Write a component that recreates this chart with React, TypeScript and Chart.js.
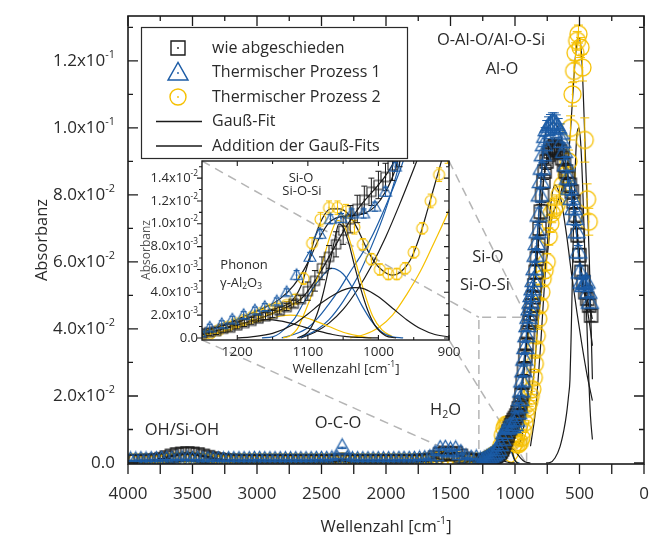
import React, { useEffect, useRef } from "react";
import { Chart, registerables } from "chart.js";
Chart.register(...registerables);

const W = 653;
const H = 543;
const FONT = '"Open Sans", "Noto Sans", "DejaVu Sans", sans-serif';
const TXT = "#2a2a2a";
const BLACK = "#1b1b1b";
const BLUE = "#1c5ca6";
const YELLOW = "#f6c000";
const DASH = "#b5b5b5";

// ---------------- DATA ----------------
// baseline region (shared wavenumber grid)
const baseWavenumbers = [
  3980, 3940, 3900, 3860, 3820, 3780, 3740, 3700, 3660, 3620,
  3580, 3540, 3500, 3460, 3420, 3380, 3340, 3300, 3260, 3220,
  3180, 3140, 3100, 3060, 3020, 2980, 2940, 2900, 2860, 2820,
  2780, 2740, 2700, 2660, 2620, 2580, 2540, 2500, 2460, 2420,
  2380, 2340, 2300, 2260, 2220, 2180, 2140, 2100, 2060, 2020,
  1980, 1940, 1900, 1860, 1820, 1780, 1740, 1700, 1660, 1620,
  1580, 1540, 1500, 1460, 1420, 1380, 1340, 1300,
];
const blueBaseAbs = [
  0.0006, 0.0006, 0.0007, 0.0006, 0.0007, 0.0007, 0.0008, 0.0008, 0.0008, 0.0009,
  0.0009, 0.0009, 0.0008, 0.0008, 0.0007, 0.0007, 0.0007, 0.0007, 0.0006, 0.0007,
  0.0007, 0.0007, 0.0007, 0.0007, 0.0008, 0.0008, 0.0007, 0.0007, 0.0007, 0.0007,
  0.0007, 0.0007, 0.0007, 0.0007, 0.0007, 0.0007, 0.0008, 0.0008, 0.0008, 0.0009,
  0.0011, 0.0045, 0.001, 0.0007, 0.0007, 0.0007, 0.0007, 0.0007, 0.0007, 0.0007,
  0.0007, 0.0007, 0.0008, 0.0008, 0.0008, 0.0008, 0.0009, 0.001, 0.0013, 0.0025,
  0.004, 0.0041, 0.0036, 0.0039, 0.0028, 0.0015, 0.0011, 0.0012,
];
const blackBaseAbs = [
  0.0005, 0.0005, 0.0005, 0.0006, 0.0006, 0.0008, 0.0011, 0.0016, 0.0021, 0.0025,
  0.0027, 0.0028, 0.0027, 0.0025, 0.0021, 0.0017, 0.0013, 0.001, 0.0008, 0.0006,
  0.0006, 0.0005, 0.0005, 0.0005, 0.0005, 0.0005, 0.0005, 0.0005, 0.0005, 0.0005,
  0.0005, 0.0005, 0.0005, 0.0005, 0.0005, 0.0005, 0.0005, 0.0005, 0.0005, 0.0005,
  0.0006, 0.0009, 0.0006, 0.0005, 0.0005, 0.0005, 0.0005, 0.0005, 0.0005, 0.0005,
  0.0005, 0.0005, 0.0005, 0.0005, 0.0005, 0.0005, 0.0006, 0.0007, 0.0009, 0.0016,
  0.0026, 0.003, 0.0027, 0.0029, 0.0021, 0.0012, 0.0008, 0.0008,
];
const yellowBaseAbs = [
  0.0002, 0.0002, 0.0002, 0.0002, 0.0002, 0.0002, 0.0003, 0.0004, 0.0005, 0.0006,
  0.0006, 0.0006, 0.0006, 0.0005, 0.0004, 0.0003, 0.0003, 0.0002, 0.0002, 0.0002,
  0.0002, 0.0002, 0.0002, 0.0002, 0.0002, 0.0002, 0.0002, 0.0002, 0.0002, 0.0002,
  0.0002, 0.0002, 0.0002, 0.0002, 0.0002, 0.0002, 0.0002, 0.0002, 0.0002, 0.0002,
  0.0002, 0.0004, 0.0002, 0.0002, 0.0002, 0.0002, 0.0002, 0.0002, 0.0002, 0.0002,
  0.0002, 0.0002, 0.0002, 0.0002, 0.0002, 0.0002, 0.0002, 0.0003, 0.0004, 0.0006,
  0.0009, 0.001, 0.0008, 0.0009, 0.0006, 0.0004, 0.0003, 0.0004,
];
const blackBaseError = 0.0002;
const blueBaseError = 0.0002;
const yellowBaseError = 0.0002;

// peak region: wie abgeschieden
const blackPeakWavenumbers = [
  1265, 1250, 1240, 1230, 1220, 1210, 1200, 1190, 1180, 1170, 1160, 1150, 1140, 1130, 1120, 1110,
  1100, 1090, 1080, 1070, 1060, 1050, 1040, 1030, 1020, 1010, 1000, 990, 980, 970,
  960, 950, 940, 930, 920, 910, 900, 890, 880, 870, 860, 850, 840, 830, 820, 810, 800, 790, 780, 770,
  755, 740, 725, 710, 695, 680, 665, 650, 635, 620, 605, 590, 575, 560, 545, 530, 515, 500, 485, 470, 455, 440, 425, 410,
];
const blackPeakAbs = [
  0.0005, 0.0004, 0.0005, 0.0006, 0.0008, 0.0009, 0.0011, 0.0013, 0.0015, 0.0017, 0.0019, 0.0021, 0.0024, 0.0027, 0.003, 0.0034,
  0.0041, 0.005, 0.0061, 0.0071, 0.0082, 0.0094, 0.0104, 0.0113, 0.0121, 0.0128, 0.0134, 0.0141, 0.0151, 0.0163,
  0.0178, 0.0205, 0.024, 0.028, 0.032, 0.0355, 0.039, 0.042, 0.0445, 0.047, 0.0495, 0.053, 0.057, 0.061, 0.065, 0.07, 0.075, 0.08, 0.084, 0.087,
  0.09, 0.092, 0.093, 0.094, 0.0945, 0.094, 0.0935, 0.093, 0.091, 0.089, 0.087, 0.085, 0.083, 0.081, 0.078, 0.074, 0.068, 0.062, 0.057, 0.054, 0.051, 0.049, 0.047, 0.044,
];
const blackPeakError = [
  0.0003, 0.0003, 0.0003, 0.0003, 0.0003, 0.0003, 0.0003, 0.0003, 0.0003, 0.0003, 0.0003, 0.0003, 0.0003, 0.0003, 0.0003, 0.0003,
  0.0008, 0.0009, 0.001, 0.001, 0.0011, 0.0012, 0.0012, 0.0012, 0.0012, 0.0012, 0.0012, 0.0012, 0.0013, 0.0013,
  0.0015, 0.0015, 0.0016, 0.0016, 0.0017, 0.0017, 0.0018, 0.0018, 0.0018, 0.0019, 0.0019, 0.002, 0.002, 0.0021, 0.0021, 0.0022, 0.0022, 0.0023, 0.0023, 0.0024,
  0.0024, 0.0025, 0.0025, 0.0025, 0.0025, 0.0025, 0.0025, 0.0025, 0.0024, 0.0024, 0.0024, 0.0023, 0.0023, 0.0023, 0.0022, 0.0022, 0.0021, 0.002, 0.0019, 0.0019, 0.0018, 0.0018, 0.0017, 0.0017,
];

// peak region: Thermischer Prozess 1
const bluePeakWavenumbers = [
  1268, 1253, 1239, 1222, 1207, 1191, 1175, 1161, 1144, 1130, 1116, 1097, 1083, 1068, 1053, 1038, 1021, 1005, 990, 976,
  968, 960, 952, 944, 936, 928, 920, 912, 904, 896, 888, 880, 872, 864, 856, 848, 840, 832, 824, 816, 808, 800, 792, 784, 776,
  766, 754, 740, 725, 710, 695, 680, 665, 650, 635, 620, 605, 590, 577, 562, 547, 535, 523, 510, 497, 484, 471, 458, 445, 432, 420,
];
const bluePeakAbs = [
  0.0006, 0.0005, 0.0009, 0.0012, 0.0016, 0.002, 0.0024, 0.0027, 0.0032, 0.004, 0.0055, 0.0071, 0.0091, 0.0104, 0.0105, 0.0109, 0.0109, 0.0115, 0.0128, 0.015,
  0.0168, 0.019, 0.0215, 0.0245, 0.0275, 0.031, 0.0345, 0.038, 0.041, 0.0435, 0.046, 0.048, 0.05, 0.052, 0.0545, 0.058, 0.062, 0.0655, 0.069, 0.074, 0.08, 0.084, 0.088, 0.092, 0.095,
  0.0975, 0.0995, 0.1005, 0.101, 0.1015, 0.1015, 0.101, 0.1, 0.0985, 0.096, 0.093, 0.089, 0.085, 0.082, 0.079, 0.076, 0.073, 0.069, 0.063, 0.057, 0.054, 0.053, 0.0535, 0.054, 0.051, 0.048,
];
const bluePeakError = [
  0.0003, 0.0003, 0.0003, 0.0003, 0.0003, 0.0003, 0.0003, 0.0003, 0.0003, 0.0003, 0.0004, 0.0004, 0.0004, 0.0004, 0.0004, 0.0004, 0.0004, 0.0004, 0.0004, 0.0004,
  0.0012, 0.0012, 0.0013, 0.0013, 0.0014, 0.0014, 0.0015, 0.0015, 0.0016, 0.0016, 0.0017, 0.0017, 0.0018, 0.0018, 0.0019, 0.0019, 0.002, 0.002, 0.0021, 0.0021, 0.0022, 0.0022, 0.0023, 0.0024, 0.0025,
  0.0026, 0.0027, 0.0028, 0.003, 0.003, 0.003, 0.0029, 0.0028, 0.0027, 0.0026, 0.0025, 0.0024, 0.0023, 0.0022, 0.0021, 0.002, 0.002, 0.0019, 0.0019, 0.0018, 0.0018, 0.0018, 0.0018, 0.0018, 0.0017, 0.0017,
];

// peak region: Thermischer Prozess 2
const yellowPeakWavenumbers = [
  1262, 1250, 1238, 1226, 1214, 1202, 1190, 1178, 1166, 1154, 1142, 1130, 1118, 1106, 1094, 1082, 1070, 1058, 1046, 1034,
  1022, 1010, 998, 986, 974, 962, 950, 938, 926, 914,
  902, 890, 878, 866, 854, 846, 838, 831, 820, 808, 796, 785, 770, 754, 738, 726, 715, 696, 677, 654,
  630, 600, 585, 569, 554, 542, 531, 518, 508, 492, 477, 459, 441, 428,
];
const yellowPeakAbs = [
  0.0003, 0.0002, 0.0004, 0.0007, 0.001, 0.0013, 0.0016, 0.0019, 0.0022, 0.0025, 0.0027, 0.0029, 0.0034, 0.0052, 0.0083, 0.0104, 0.0114, 0.0114, 0.0111, 0.0097,
  0.0082, 0.0069, 0.006, 0.0056, 0.0056, 0.0061, 0.0075, 0.0096, 0.012, 0.0143,
  0.0165, 0.0182, 0.02, 0.022, 0.0255, 0.0296, 0.034, 0.038, 0.043, 0.047, 0.051, 0.055, 0.0575, 0.06, 0.0676, 0.0715, 0.0745, 0.076, 0.077, 0.08,
  0.083, 0.086, 0.09, 0.1, 0.11, 0.117, 0.1224, 0.126, 0.128, 0.124, 0.118, 0.0964, 0.0787, 0.072,
];
const yellowPeakError = [
  0.0003, 0.0003, 0.0003, 0.0003, 0.0003, 0.0003, 0.0003, 0.0003, 0.0003, 0.0003, 0.0003, 0.0003, 0.0004, 0.0005, 0.0005, 0.0006, 0.0006, 0.0006, 0.0006, 0.0006,
  0.0005, 0.0005, 0.0005, 0.0005, 0.0005, 0.0005, 0.0005, 0.0005, 0.0006, 0.0006,
  0.0012, 0.0013, 0.0014, 0.0015, 0.0016, 0.0017, 0.0018, 0.0019, 0.002, 0.0021, 0.0022, 0.0023, 0.0024, 0.0025, 0.0026, 0.0027, 0.0028, 0.003, 0.003, 0.003,
  0.003, 0.0032, 0.0034, 0.0036, 0.0035, 0.0032, 0.003, 0.0028, 0.0027, 0.003, 0.004, 0.0066, 0.0046, 0.004,
];

// Gauss fit components
const fitBlackPhononW = [1300, 1250, 1230, 1210, 1190, 1175, 1158, 1140, 1125, 1105, 1085, 1065, 1045, 1020, 1000];
const fitBlackPhononA = [0.00005, 0.0003, 0.0006, 0.001, 0.0013, 0.0015, 0.0016, 0.0015, 0.0013, 0.00095, 0.0006, 0.0003, 0.00012, 0.00003, 0];
const fitBlackSiOW = [1200, 1180, 1150, 1120, 1100, 1080, 1060, 1045, 1033, 1020, 1000, 980, 960, 940, 920, 900, 880];
const fitBlackSiOA = [0, 0.0001, 0.0004, 0.0012, 0.0021, 0.0031, 0.0039, 0.0043, 0.0044, 0.0043, 0.0036, 0.0026, 0.0016, 0.0008, 0.0003, 0.0001, 0];
const fitBlackNarrowW = [1115, 1100, 1090, 1080, 1070, 1062, 1056, 1050, 1042, 1035, 1025, 1015, 1005, 990, 975];
const fitBlackNarrowA = [0, 0.0005, 0.0016, 0.0035, 0.0062, 0.0086, 0.01, 0.0097, 0.0083, 0.0066, 0.0043, 0.0024, 0.0011, 0.0002, 0];
const fitBlueSiOW = [1165, 1150, 1140, 1120, 1104, 1085, 1066, 1050, 1035, 1024, 1010, 995, 980, 965];
const fitBlueSiOA = [0, 0.0001, 0.0004, 0.0016, 0.0033, 0.005, 0.0061, 0.0056, 0.0042, 0.0029, 0.0015, 0.0005, 0.0001, 0];
const fitYellowSiOW = [1135, 1125, 1115, 1104, 1092, 1080, 1068, 1058, 1048, 1038, 1028, 1018, 1008, 995, 980];
const fitYellowSiOA = [0, 0.0002, 0.0008, 0.0023, 0.0042, 0.0065, 0.009, 0.0103, 0.0098, 0.008, 0.0057, 0.0036, 0.0019, 0.0007, 0.0001];
const fitYellowPhononW = [1260, 1250, 1220, 1190, 1160, 1140, 1125, 1110, 1090, 1070, 1050, 1030, 1010];
const fitYellowPhononA = [0.0001, 0.0002, 0.0006, 0.0011, 0.0016, 0.0019, 0.002, 0.0019, 0.0015, 0.001, 0.0005, 0.0002, 0];
const fitBlueTailAW = [1137, 1120, 1100, 1085, 1071, 1055, 1040, 1024, 1010, 995, 980, 967, 955];
const fitBlueTailAA = [0, 0.0003, 0.0009, 0.0018, 0.0029, 0.0043, 0.0058, 0.0073, 0.0088, 0.0108, 0.013, 0.0151, 0.0175];
const fitBlueTailBW = [1113, 1090, 1070, 1050, 1030, 1010, 990, 975, 962];
const fitBlueTailBA = [0, 0.0006, 0.0016, 0.0032, 0.0053, 0.008, 0.0112, 0.0142, 0.0172];
const fitBlackTailW = [1110, 1090, 1070, 1050, 1030, 1010, 990, 970, 950, 935];
const fitBlackTailA = [0, 0.0005, 0.0013, 0.0025, 0.0042, 0.0063, 0.0088, 0.0117, 0.0148, 0.0172];
const fitYellowTailW = [1040, 1020, 1000, 980, 960, 940, 920, 900, 890];
const fitYellowTailA = [0, 0.0003, 0.0009, 0.002, 0.0038, 0.0059, 0.0085, 0.0112, 0.0128];
const fitAlOW = [760, 730, 690, 651, 620, 600, 585, 574, 566, 558, 548, 535, 520, 505, 490, 475, 460, 445, 430, 415, 400];
const fitAlOA = [0, 0.0001, 0.0015, 0.0049, 0.01, 0.0148, 0.02, 0.0248, 0.036, 0.05, 0.068, 0.086, 0.098, 0.1, 0.095, 0.082, 0.064, 0.044, 0.027, 0.014, 0.007];
const fitAlOSiW = [880, 840, 800, 760, 720, 690, 660, 640, 600, 560, 520, 480, 440, 400];
const fitAlOSiA = [0.005, 0.016, 0.036, 0.06, 0.078, 0.083, 0.081, 0.078, 0.068, 0.056, 0.045, 0.035, 0.026, 0.0186];

// Addition der Gauss-Fits
const sumBlackW = [
  1250, 1220, 1190, 1160, 1130, 1110, 1100, 1090, 1080, 1070, 1060, 1050, 1040, 1030, 1020, 1010, 1000, 990, 980, 970, 960, 950, 940,
  920, 900, 880, 860, 840, 820, 800, 780, 760, 740, 720, 700, 680, 660, 640, 620, 600, 580, 560, 540, 520, 500, 480, 460, 440, 420, 400,
];
const sumBlackA = [
  0.0004, 0.0008, 0.0013, 0.0019, 0.0027, 0.0034, 0.0041, 0.005, 0.006, 0.0071, 0.0082, 0.0093, 0.0103, 0.0112, 0.012, 0.0127, 0.0134, 0.0142, 0.0152, 0.0164, 0.018, 0.0206, 0.024,
  0.032, 0.039, 0.0445, 0.0497, 0.057, 0.065, 0.075, 0.084, 0.089, 0.092, 0.0935, 0.0943, 0.094, 0.0932, 0.0915, 0.0893, 0.087, 0.0843, 0.081, 0.077, 0.07, 0.062, 0.0555, 0.0515, 0.0488, 0.046, 0.043,
];
const sumBlueW = [
  1250, 1220, 1190, 1160, 1140, 1120, 1100, 1085, 1070, 1055, 1040, 1020, 1005, 990, 976,
  960, 940, 920, 900, 880, 860, 840, 820, 800, 780, 760, 740, 720, 700, 680, 660, 640, 620, 600, 580, 560, 540, 520, 500, 480, 460, 440, 420, 400,
];
const sumBlueA = [
  0.0005, 0.0011, 0.0019, 0.0027, 0.0034, 0.0046, 0.0066, 0.0086, 0.0101, 0.0106, 0.0107, 0.0109, 0.0115, 0.0128, 0.0148,
  0.019, 0.026, 0.034, 0.04, 0.047, 0.053, 0.061, 0.071, 0.083, 0.094, 0.099, 0.1005, 0.1012, 0.1015, 0.101, 0.0995, 0.097, 0.093, 0.088, 0.083, 0.079, 0.074, 0.067, 0.06, 0.054, 0.05, 0.046, 0.041, 0.035,
];
const sumYellowW = [
  1250, 1220, 1190, 1160, 1140, 1125, 1110, 1100, 1090, 1080, 1068, 1055, 1042, 1030, 1018, 1005, 992, 980, 968, 955,
  942, 930, 918, 905, 890, 870, 850, 830, 810, 790, 770, 750, 730, 710, 690, 670, 650, 630, 610, 590,
  570, 550, 530, 510, 495, 480, 465, 450, 435, 425, 415, 400,
];
const sumYellowA = [
  0.0003, 0.0008, 0.0016, 0.0023, 0.0027, 0.0031, 0.0045, 0.0065, 0.0088, 0.0104, 0.0113, 0.0113, 0.0108, 0.0096, 0.008, 0.0066, 0.0058, 0.0055, 0.0058, 0.0068,
  0.0088, 0.0113, 0.0139, 0.0166, 0.0185, 0.022, 0.028, 0.038, 0.046, 0.053, 0.058, 0.062, 0.069, 0.074, 0.076, 0.078, 0.08, 0.083, 0.086, 0.09,
  0.099, 0.111, 0.122, 0.127, 0.126, 0.119, 0.104, 0.087, 0.073, 0.062, 0.048, 0.025,
];

// axes
const mainXRange = [0, 4000];
const mainYRange = [-0.0003, 0.1334];
const mainXLabels = [4000, 3500, 3000, 2500, 2000, 1500, 1000, 500, 0];
const mainXMinor = [3750, 3250, 2750, 2250, 1750, 1250, 750, 250];
const mainYLabels = [0, 0.02, 0.04, 0.06, 0.08, 0.1, 0.12];
const mainYLabelText = [["0.0", ""], ["2.0x10", "-2"], ["4.0x10", "-2"], ["6.0x10", "-2"], ["8.0x10", "-2"], ["1.0x10", "-1"], ["1.2x10", "-1"]];
const mainYMinor = [0.01, 0.03, 0.05, 0.07, 0.09, 0.11, 0.13];
const insetXRange = [900, 1250];
const insetYRange = [-0.00018, 0.0155];
const insetXLabels = [1200, 1100, 1000, 900];
const insetXMinor = [1150, 1050, 950];
const insetYLabels = [0, 0.002, 0.004, 0.006, 0.008, 0.01, 0.012, 0.014];
const insetYLabelText = [["0.0", ""], ["2.0x10", "-3"], ["4.0x10", "-3"], ["6.0x10", "-3"], ["8.0x10", "-3"], ["1.0x10", "-2"], ["1.2x10", "-2"], ["1.4x10", "-2"]];
const insetYMinor = [0.001, 0.003, 0.005, 0.007, 0.009, 0.011, 0.013, 0.015];
const zoomBox = { from: 1280, to: 910, top: 0.0435 };

const legendLabels = ["wie abgeschieden", "Thermischer Prozess 1", "Thermischer Prozess 2", "Gauß-Fit", "Addition der Gauß-Fits"];

// ---------------- LAYOUT ----------------
const MAIN_AREA = { left: 128, top: 16, right: 648, bottom: 464 };
const INSET_AREA = { left: 202, top: 161, right: 449, bottom: 340 };

type Part = [string, number];
function drawRich(ctx: CanvasRenderingContext2D, parts: Part[], x: number, y: number, size: number, align: string) {
  const fonts = parts.map(([, k]) => `${k === 0 ? size : size * 0.64}px ${FONT}`);
  const widths = parts.map(([t], i) => {
    ctx.font = fonts[i];
    return ctx.measureText(t).width;
  });
  const total = widths.reduce((s, v) => s + v, 0);
  let cx = align === "left" ? x : align === "center" ? x - total / 2 : x - total;
  ctx.textAlign = "left";
  ctx.textBaseline = "middle";
  parts.forEach(([t, k], i) => {
    ctx.font = fonts[i];
    const dy = k > 0 ? -size * 0.36 : k < 0 ? size * 0.3 : 0;
    ctx.fillText(t, cx, y + dy);
    cx += widths[i];
  });
}

function markerCanvas(kind: string, size: number, color: string, lw: number): HTMLCanvasElement {
  const dim = Math.ceil(size + 4);
  const c = document.createElement("canvas");
  c.width = dim;
  c.height = dim;
  const g = c.getContext("2d")!;
  g.strokeStyle = color;
  g.fillStyle = color;
  g.lineWidth = lw;
  const m = dim / 2;
  g.beginPath();
  if (kind === "square") g.rect(m - size / 2, m - size / 2, size, size);
  else if (kind === "circle") g.arc(m, m, size / 2, 0, Math.PI * 2);
  else {
    const h = size * 0.88;
    g.moveTo(m, m - h * 0.6);
    g.lineTo(m + size / 2, m + h * 0.4);
    g.lineTo(m - size / 2, m + h * 0.4);
    g.closePath();
  }
  g.stroke();
  g.beginPath();
  g.arc(m, m, 0.9, 0, Math.PI * 2);
  g.fill();
  return c;
}

const toPts = (ws: number[], as: number[]) => {
  const n = Math.min(ws.length, as.length);
  const out: { x: number; y: number }[] = [];
  for (let i = 0; i < n; i++) out.push({ x: ws[i], y: as[i] });
  return out;
};

function buildDatasets(isInset: boolean): any[] {
  const s = isInset ? { sq: 9, tri: 12, circ: 11, lw: 1.1 } : { sq: 13, tri: 17, circ: 17, lw: 1.3 };
  const series = [
    {
      w: [...baseWavenumbers, ...bluePeakWavenumbers],
      a: [...blueBaseAbs, ...bluePeakAbs],
      e: [...baseWavenumbers.map(() => blueBaseError), ...bluePeakError],
      img: markerCanvas("triangle", s.tri, BLUE, s.lw),
      color: BLUE,
      order: 1,
    },
    {
      w: [...baseWavenumbers, ...blackPeakWavenumbers],
      a: [...blackBaseAbs, ...blackPeakAbs],
      e: [...baseWavenumbers.map(() => blackBaseError), ...blackPeakError],
      img: markerCanvas("square", s.sq, BLACK, s.lw),
      color: BLACK,
      order: 2,
    },
    {
      w: [...baseWavenumbers, ...yellowPeakWavenumbers],
      a: [...yellowBaseAbs, ...yellowPeakAbs],
      e: [...baseWavenumbers.map(() => yellowBaseError), ...yellowPeakError],
      img: markerCanvas("circle", s.circ, YELLOW, s.lw),
      color: YELLOW,
      order: 3,
    },
  ];
  const markerSets = series.map((sr) => ({
    data: toPts(sr.w, sr.a),
    showLine: false,
    pointStyle: sr.img,
    pointRadius: 8,
    borderColor: sr.color,
    backgroundColor: sr.color,
    order: sr.order,
    errors: sr.e,
    errColor: sr.color,
  }));
  const lines = [
    { w: fitBlackPhononW, a: fitBlackPhononA, c: BLACK },
    { w: fitBlackSiOW, a: fitBlackSiOA, c: BLACK },
    { w: fitBlackNarrowW, a: fitBlackNarrowA, c: BLACK },
    { w: fitBlueSiOW, a: fitBlueSiOA, c: BLUE },
    { w: fitYellowSiOW, a: fitYellowSiOA, c: YELLOW },
    { w: fitYellowPhononW, a: fitYellowPhononA, c: YELLOW },
    { w: fitBlueTailAW, a: fitBlueTailAA, c: BLUE },
    { w: fitBlueTailBW, a: fitBlueTailBA, c: BLUE },
    { w: fitBlackTailW, a: fitBlackTailA, c: BLACK },
    { w: fitYellowTailW, a: fitYellowTailA, c: YELLOW },
    { w: fitAlOW, a: fitAlOA, c: BLACK },
    { w: fitAlOSiW, a: fitAlOSiA, c: BLACK },
    { w: sumBlackW, a: sumBlackA, c: BLACK },
    { w: sumBlueW, a: sumBlueA, c: BLACK },
    { w: sumYellowW, a: sumYellowA, c: BLACK },
  ];
  const lineSets = lines.map((l, i) => ({
    data: toPts(l.w, l.a),
    showLine: true,
    pointRadius: 0,
    borderColor: l.c,
    borderWidth: isInset ? 1.2 : 1.2,
    cubicInterpolationMode: "monotone",
    fill: false,
    order: 10 + i,
  }));
  return [...markerSets, ...lineSets];
}

function errorBarPlugin(cap: number) {
  return {
    id: "errbars",
    beforeDatasetDraw(chart: any, args: any) {
      const ds = chart.data.datasets[args.index];
      if (!ds || !ds.errors) return;
      const ctx = chart.ctx;
      const a = chart.chartArea;
      const ys = chart.scales.y;
      ctx.save();
      ctx.beginPath();
      ctx.rect(a.left, a.top, a.right - a.left, a.bottom - a.top);
      ctx.clip();
      ctx.strokeStyle = ds.errColor;
      ctx.lineWidth = 1;
      ctx.beginPath();
      args.meta.data.forEach((el: any, i: number) => {
        const e = ds.errors[i];
        const d = ds.data[i];
        if (!e || !d) return;
        const x = el.x;
        if (x < a.left - 10 || x > a.right + 10) return;
        const y1 = ys.getPixelForValue(d.y + e);
        const y2 = ys.getPixelForValue(d.y - e);
        ctx.moveTo(x, y1);
        ctx.lineTo(x, y2);
        ctx.moveTo(x - cap / 2, y1);
        ctx.lineTo(x + cap / 2, y1);
        ctx.moveTo(x - cap / 2, y2);
        ctx.lineTo(x + cap / 2, y2);
      });
      ctx.stroke();
      ctx.restore();
    },
  };
}

const mainDecor = {
  id: "mainDecor",
  beforeDatasetsDraw(chart: any) {
    const ctx = chart.ctx;
    const xs = chart.scales.x;
    const ys = chart.scales.y;
    const a = chart.chartArea;
    const bl = xs.getPixelForValue(zoomBox.from);
    const br = xs.getPixelForValue(zoomBox.to);
    const bt = ys.getPixelForValue(zoomBox.top);
    const bb = a.bottom;
    ctx.save();
    ctx.strokeStyle = DASH;
    ctx.lineWidth = 1.5;
    ctx.setLineDash([9, 6]);
    ctx.beginPath();
    ctx.moveTo(INSET_AREA.left, INSET_AREA.top);
    ctx.lineTo(bl, bt);
    ctx.moveTo(INSET_AREA.right, INSET_AREA.top);
    ctx.lineTo(br, bt);
    ctx.moveTo(INSET_AREA.left, INSET_AREA.bottom);
    ctx.lineTo(bl, bb);
    ctx.moveTo(INSET_AREA.right, INSET_AREA.bottom);
    ctx.lineTo(br, bb);
    ctx.stroke();
    ctx.beginPath();
    ctx.moveTo(bl, bb);
    ctx.lineTo(bl, bt);
    ctx.lineTo(br, bt);
    ctx.lineTo(br, bb);
    ctx.stroke();
    ctx.restore();
  },
  afterDraw(chart: any) {
    const ctx: CanvasRenderingContext2D = chart.ctx;
    const xs = chart.scales.x;
    const ys = chart.scales.y;
    const a = chart.chartArea;
    ctx.save();
    // frame
    ctx.strokeStyle = BLACK;
    ctx.lineWidth = 1.6;
    ctx.strokeRect(a.left, a.top, a.right - a.left, a.bottom - a.top);
    ctx.lineWidth = 1.3;
    ctx.beginPath();
    const xt = (w: number, major: boolean) => {
      const x = xs.getPixelForValue(w);
      ctx.moveTo(x, a.top);
      ctx.lineTo(x, a.top + (major ? 10 : 5));
      ctx.moveTo(x, a.bottom);
      ctx.lineTo(x, a.bottom + 10);
    };
    mainXLabels.forEach((w) => xt(w, true));
    mainXMinor.forEach((w) => xt(w, false));
    const yt = (v: number, major: boolean) => {
      const y = ys.getPixelForValue(v);
      const len = major ? 10 : 5;
      ctx.moveTo(a.left, y);
      ctx.lineTo(a.left + len, y);
      ctx.moveTo(a.right, y);
      ctx.lineTo(a.right - len, y);
    };
    mainYLabels.forEach((v) => yt(v, true));
    mainYMinor.forEach((v) => yt(v, false));
    ctx.stroke();

    ctx.fillStyle = TXT;
    // x labels
    ctx.font = `17px ${FONT}`;
    ctx.textAlign = "center";
    ctx.textBaseline = "middle";
    mainXLabels.forEach((w) => ctx.fillText(String(w), xs.getPixelForValue(w), 494));
    // y labels
    mainYLabels.forEach((v, i) => {
      const [m, e] = mainYLabelText[i];
      const parts: Part[] = e ? [[m, 0], [e, 1]] : [[m, 0]];
      drawRich(ctx, parts, 115, ys.getPixelForValue(v), 17, "right");
    });
    // titles
    drawRich(ctx, [["Wellenzahl [cm", 0], ["-1", 1], ["]", 0]], (a.left + a.right) / 2, 527, 16.5, "center");
    ctx.save();
    ctx.translate(42, (a.top + a.bottom) / 2);
    ctx.rotate(-Math.PI / 2);
    drawRich(ctx, [["Absorbanz", 0]], 0, 0, 16.5, "center");
    ctx.restore();

    // annotations
    drawRich(ctx, [["O-Al-O/Al-O-Si", 0]], 491, 40, 16.5, "center");
    drawRich(ctx, [["Al-O", 0]], 502, 69, 16.5, "center");
    drawRich(ctx, [["Si-O", 0]], 488, 257, 16.5, "center");
    drawRich(ctx, [["Si-O-Si", 0]], 485, 285, 16.5, "center");
    drawRich(ctx, [["OH/Si-OH", 0]], 182, 430, 16.5, "center");
    drawRich(ctx, [["O-C-O", 0]], 338, 423, 16.5, "center");
    drawRich(ctx, [["H", 0], ["2", -1], ["O", 0]], 430, 410, 16.5, "left");

    // legend
    const lx = 141, ly = 27, lw = 266, lh = 131;
    ctx.fillStyle = "#ffffff";
    ctx.fillRect(lx, ly, lw, lh);
    ctx.strokeStyle = "#2a2a2a";
    ctx.lineWidth = 1.2;
    ctx.strokeRect(lx + 0.5, ly + 0.5, lw, lh);
    const rows = [48, 72.5, 97, 121.5, 146];
    const imgs = [
      markerCanvas("square", 14, BLACK, 1.4),
      markerCanvas("triangle", 20, BLUE, 1.4),
      markerCanvas("circle", 16, YELLOW, 1.4),
    ];
    imgs.forEach((im, i) => ctx.drawImage(im, Math.round(178 - im.width / 2), Math.round(rows[i] - im.height / 2)));
    ctx.strokeStyle = BLACK;
    ctx.lineWidth = 1.4;
    ctx.beginPath();
    ctx.moveTo(156, rows[3]);
    ctx.lineTo(202, rows[3]);
    ctx.moveTo(156, rows[4]);
    ctx.lineTo(202, rows[4]);
    ctx.stroke();
    ctx.fillStyle = TXT;
    legendLabels.forEach((t, i) => drawRich(ctx, [[t, 0]], 212, rows[i], 16, "left"));
    ctx.restore();
  },
};

const insetDecor = {
  id: "insetDecor",
  afterDraw(chart: any) {
    const ctx: CanvasRenderingContext2D = chart.ctx;
    const xs = chart.scales.x;
    const ys = chart.scales.y;
    const a = chart.chartArea;
    ctx.save();
    ctx.strokeStyle = BLACK;
    ctx.lineWidth = 1.4;
    ctx.strokeRect(a.left, a.top, a.right - a.left, a.bottom - a.top);
    ctx.lineWidth = 1.1;
    ctx.beginPath();
    const xt = (w: number, major: boolean) => {
      const x = xs.getPixelForValue(w);
      const len = major ? 5 : 3;
      ctx.moveTo(x, a.bottom);
      ctx.lineTo(x, a.bottom - len);
      ctx.moveTo(x, a.top);
      ctx.lineTo(x, a.top + len);
    };
    insetXLabels.forEach((w) => xt(w, true));
    insetXMinor.forEach((w) => xt(w, false));
    const yt = (v: number, major: boolean) => {
      const y = ys.getPixelForValue(v);
      const len = major ? 5 : 3;
      ctx.moveTo(a.left, y);
      ctx.lineTo(a.left - len, y);
      ctx.moveTo(a.right, y);
      ctx.lineTo(a.right - len, y);
    };
    insetYLabels.forEach((v) => yt(v, true));
    insetYMinor.forEach((v) => yt(v, false));
    ctx.stroke();

    ctx.fillStyle = "#555";
    ctx.save();
    ctx.translate(147, 250);
    ctx.rotate(-Math.PI / 2);
    drawRich(ctx, [["Absorbanz", 0]], 0, 0, 12, "center");
    ctx.restore();

    ctx.fillStyle = TXT;
    insetYLabels.forEach((v, i) => {
      const [m, e] = insetYLabelText[i];
      const parts: Part[] = e ? [[m, 0], [e, 1]] : [[m, 0]];
      drawRich(ctx, parts, 198, ys.getPixelForValue(v), 13, "right");
    });
    insetXLabels.forEach((w) => drawRich(ctx, [[String(w), 0]], xs.getPixelForValue(w), 352, 13.5, "center"));
    drawRich(ctx, [["Wellenzahl [cm", 0], ["-1", 1], ["]", 0]], 346, 369, 13.5, "center");

    drawRich(ctx, [["Si-O", 0]], 301, 178, 13, "center");
    drawRich(ctx, [["Si-O-Si", 0]], 302, 191, 13, "center");
    drawRich(ctx, [["Phonon", 0]], 244, 265, 13, "center");
    drawRich(ctx, [["γ-Al", 0], ["2", -1], ["O", 0], ["3", -1]], 220, 283, 13, "left");
    ctx.restore();
  },
};

function makeConfig(isInset: boolean): any {
  const area = isInset ? INSET_AREA : MAIN_AREA;
  const xr = isInset ? insetXRange : mainXRange;
  const yr = isInset ? insetYRange : mainYRange;
  return {
    type: "line",
    data: { datasets: buildDatasets(isInset) },
    options: {
      animation: false,
      responsive: false,
      devicePixelRatio: 1,
      events: [],
      layout: { padding: { left: area.left, top: area.top, right: W - area.right, bottom: H - area.bottom } },
      plugins: { legend: { display: false }, tooltip: { enabled: false }, title: { display: false } },
      scales: {
        x: { type: "linear", min: xr[0], max: xr[1], reverse: true, display: false },
        y: { type: "linear", min: yr[0], max: yr[1], display: false },
      },
    },
    plugins: isInset ? [errorBarPlugin(6), insetDecor] : [errorBarPlugin(9), mainDecor],
  };
}

export default function App() {
  const mainRef = useRef<HTMLCanvasElement>(null);
  const insetRef = useRef<HTMLCanvasElement>(null);
  useEffect(() => {
    const main = new Chart(mainRef.current!, makeConfig(false));
    const inset = new Chart(insetRef.current!, makeConfig(true));
    return () => {
      main.destroy();
      inset.destroy();
    };
  }, []);
  const cs: React.CSSProperties = { position: "absolute", left: 0, top: 0, width: W, height: H };
  return (
    <div style={{ position: "fixed", left: 0, top: 0, width: W, height: H, background: "#fff" }}>
      <canvas ref={mainRef} width={W} height={H} style={cs} />
      <canvas ref={insetRef} width={W} height={H} style={cs} />
    </div>
  );
}
